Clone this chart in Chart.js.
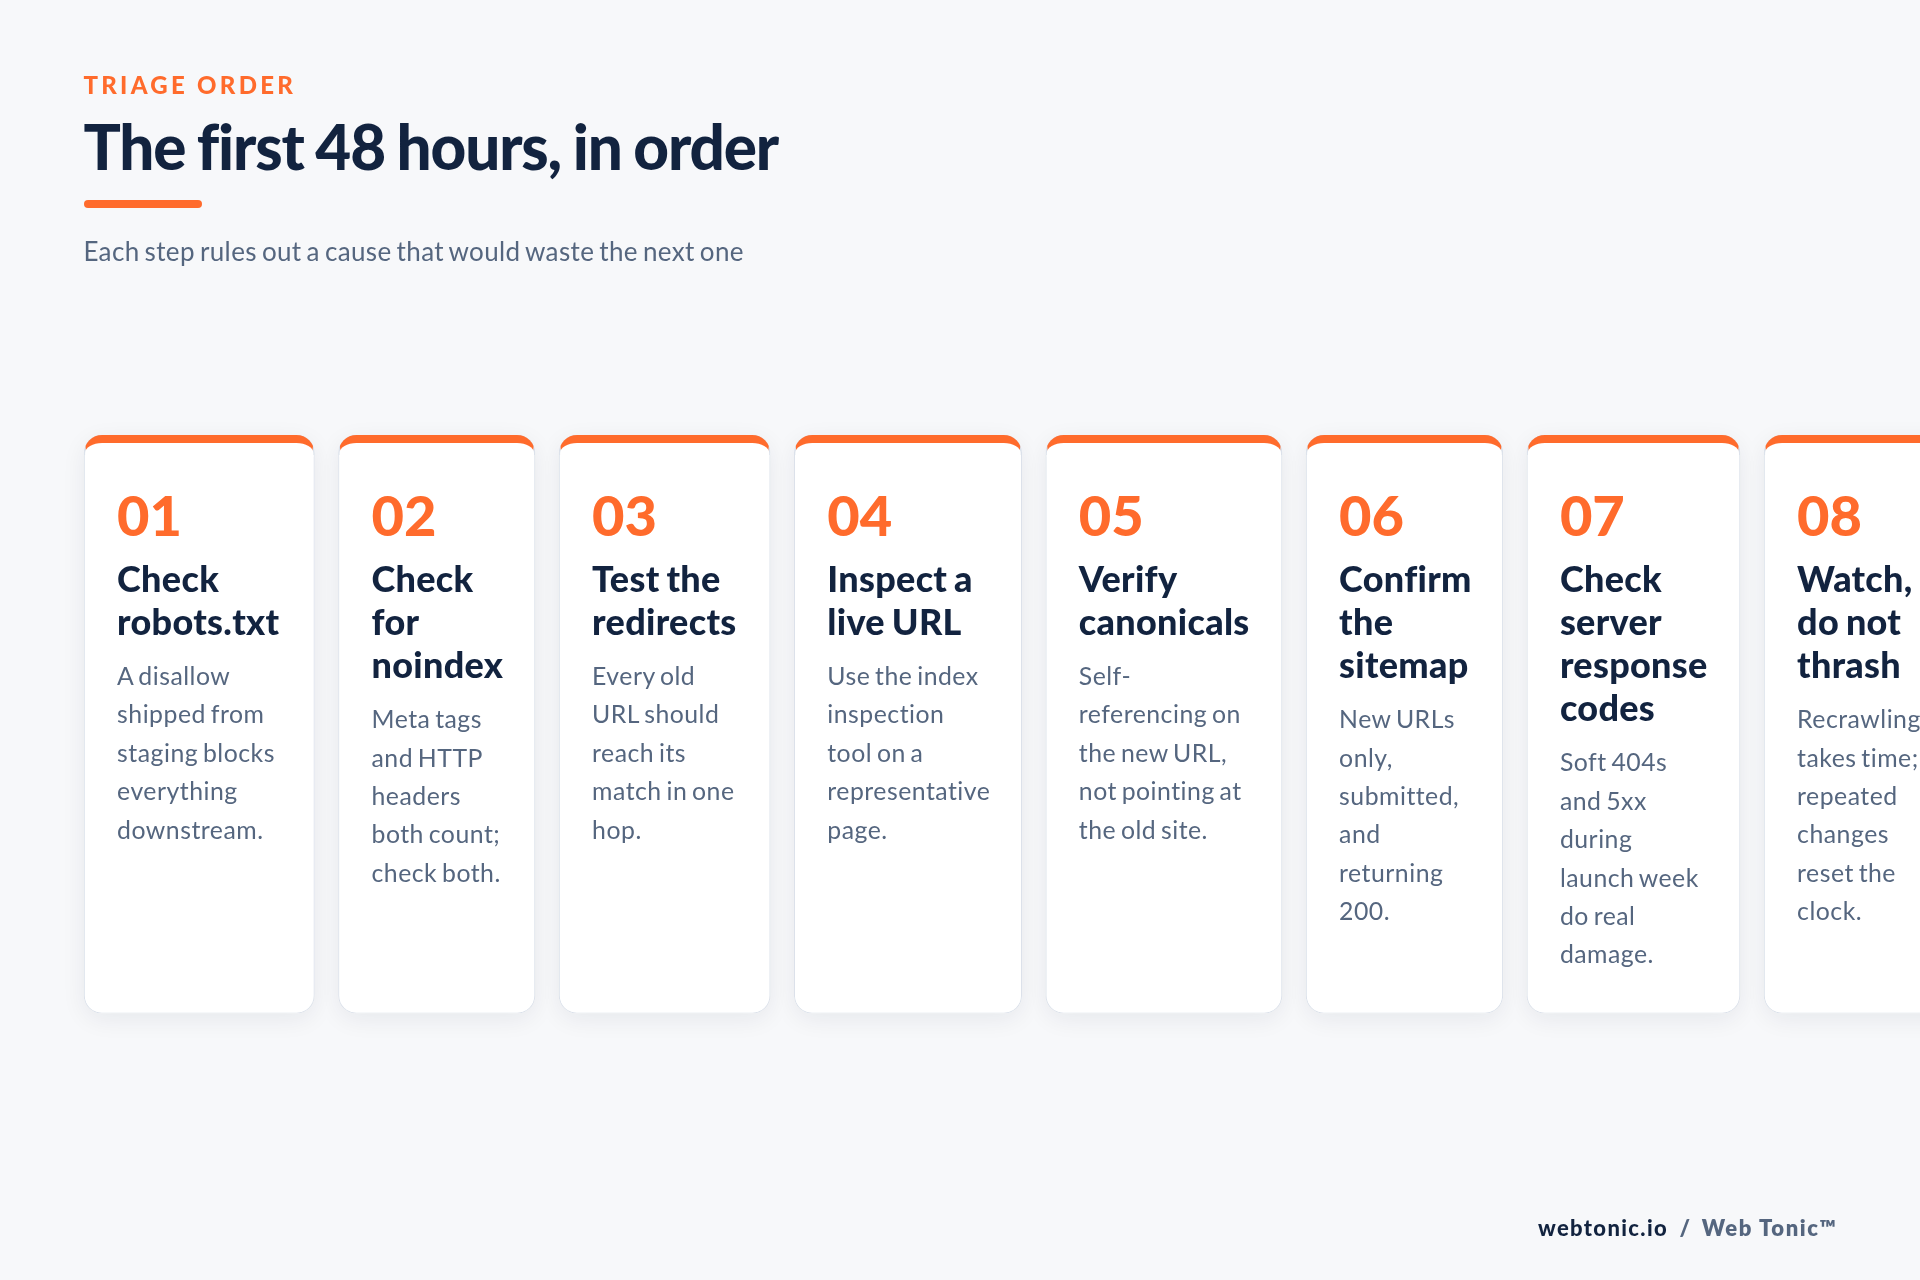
<!DOCTYPE html>
<html><head><meta charset="utf-8">
<script src="https://cdn.jsdelivr.net/npm/chart.js@4"></script>
<style>
html{overflow:hidden}
html,body{margin:0;padding:0;width:1920px;height:1280px;background:#f7f8fa;font-family:Lato,sans-serif}
#c{position:absolute;left:0;top:0}
.abs{position:absolute;white-space:nowrap}
#eyebrow{left:83.4px;top:70px;font-size:24px;line-height:30px;font-weight:900;letter-spacing:3.3px;color:#ff6b2c}
#title{left:83.4px;top:107.5px;font-size:62px;line-height:76px;font-weight:900;letter-spacing:-1.15px;word-spacing:-2px;color:#12233f}
#rule{left:83.6px;top:200px;width:118px;height:8px;border-radius:4px;background:#ff6b2c}
#sub{left:83.4px;top:234px;font-size:26px;line-height:34px;color:#55667f;letter-spacing:.37px;word-spacing:-2px}
#foot{right:82.4px;top:1214px;font-size:22px;line-height:28px;font-weight:800;letter-spacing:1.6px;color:#55667f}
#foot b{color:#12233f;font-weight:900;letter-spacing:1.35px}
#foot i{font-style:normal;margin:0 10px 0 11.5px}
.card{position:absolute;box-sizing:border-box;padding:45.5px 0 0 33px;white-space:nowrap}
.num{font-size:56px;line-height:68px;font-weight:900;color:#ff6b2c}
.ttl{font-size:36px;line-height:43.2px;font-weight:900;color:#12233f;margin-top:8.2px;letter-spacing:.3px;word-spacing:-2px}
.bod{font-size:24.8px;line-height:38.4px;color:#55667f;margin-top:13.9px;letter-spacing:.5px;word-spacing:-2.05px}
</style></head><body>
<canvas id="c" width="1920" height="1280"></canvas>
<div id="eyebrow" class="abs">TRIAGE ORDER</div>
<div id="title" class="abs">The first 48 hours, in order</div>
<div id="rule" class="abs"></div>
<div id="sub" class="abs">Each step rules out a cause that would waste the next one</div>
<div id="foot" class="abs"><b>webtonic.io</b><i>/</i>Web Tonic™</div>
<div id="cards"></div>
<script>
const stepNumbers=["01","02","03","04","05","06","07","08"];
const stepTitles=[
 ["Check","robots.txt"],["Check","for","noindex"],["Test the","redirects"],["Inspect a","live URL"],
 ["Verify","canonicals"],["Confirm","the","sitemap"],["Check","server","response","codes"],["Watch,","do not","thrash"]];
const stepBodies=[
 ["A disallow","shipped from","staging blocks","everything","downstream."],
 ["Meta tags","and HTTP","headers","both count;","check both."],
 ["Every old","URL should","reach its","match in one","hop."],
 ["Use the index","inspection","tool on a","representative","page."],
 ["Self-","referencing on","the new URL,","not pointing at","the old site."],
 ["New URLs","only,","submitted,","and","returning","200."],
 ["Soft 404s","and 5xx","during","launch week","do real","damage."],
 ["Recrawling","takes time;","repeated","changes","reset the","clock."]];
const cardWidths=[230.3,196.5,211.1,227.4,236.2,196.7,213.1,230];

const ORANGE='#ff6b2c',EDGE='#dbe1ea',GAP=24.1,LEFT=84.1,R=18,TOPB=8;
let cur=LEFT;
const spans=cardWidths.map(w=>{const s=[cur,cur+w];cur+=w+GAP;return s;});

function roundPath(ctx,x,y,w,h,r){ctx.beginPath();ctx.roundRect(x,y,w,h,r);}
const cardPlugin={id:'cardPlugin',
 beforeDatasetsDraw(chart){
  const ctx=chart.ctx;
  chart.data.datasets.forEach((d,i)=>{
   const el=chart.getDatasetMeta(i).data[0];
   ctx.save();
   ctx.shadowColor='rgba(18,35,63,.07)';ctx.shadowBlur=24;ctx.shadowOffsetY=6;ctx.fillStyle='#fff';
   roundPath(ctx,el.base,el.y-el.height/2,el.x-el.base,el.height,R);ctx.fill();
   ctx.restore();
  });
 },
 afterDatasetsDraw(chart){
  const ctx=chart.ctx;
  chart.data.datasets.forEach((d,i)=>{
   const el=chart.getDatasetMeta(i).data[0];
   const x=el.base,y=el.y-el.height/2,w=el.x-el.base;
   ctx.save();
   roundPath(ctx,x,y,w,el.height,R);ctx.clip();
   ctx.fillStyle=EDGE;ctx.fillRect(x,y,w,R+2);
   ctx.fillStyle=ORANGE;ctx.beginPath();
   ctx.moveTo(x,y);ctx.lineTo(x+w,y);ctx.lineTo(x+w-2.4,y+TOPB*2.4);ctx.lineTo(x+2.4,y+TOPB*2.4);ctx.closePath();ctx.fill();
   const ix=x+1,iy=y+TOPB,iw=w-2,rx=R-1,ry=R-TOPB;
   ctx.fillStyle='#fff';ctx.beginPath();
   ctx.moveTo(ix,iy+ry+4);ctx.lineTo(ix,iy+ry);
   ctx.ellipse(ix+rx,iy+ry,rx,ry,0,Math.PI,1.5*Math.PI);
   ctx.lineTo(ix+iw-rx,iy);
   ctx.ellipse(ix+iw-rx,iy+ry,rx,ry,0,1.5*Math.PI,2*Math.PI);
   ctx.lineTo(ix+iw,iy+ry+4);ctx.closePath();ctx.fill();
   ctx.restore();
  });
 },
 afterRender(chart){
  const host=document.getElementById('cards');
  if(host.childElementCount)return;
  chart.data.datasets.forEach((d,i)=>{
   const el=chart.getDatasetMeta(i).data[0];
   const div=document.createElement('div');div.className='card';
   div.style.left=el.base+'px';div.style.top=(el.y-el.height/2)+'px';
   const line=t=>{const s=document.createElement('div');s.textContent=t;return s;};
   const n=line(stepNumbers[i]);n.className='num';
   const t=document.createElement('div');t.className='ttl';stepTitles[i].forEach(l=>t.appendChild(line(l)));
   const b=document.createElement('div');b.className='bod';stepBodies[i].forEach(l=>b.appendChild(line(l)));
   div.append(n,t,b);host.appendChild(div);
  });
 }};

new Chart(document.getElementById('c'),{
 type:'bar',
 data:{labels:['Triage steps'],datasets:spans.map((s,i)=>({label:stepNumbers[i],data:[s],backgroundColor:'#fff',borderColor:EDGE,
   borderWidth:{top:TOPB,left:1,right:1,bottom:1},borderSkipped:false,borderRadius:R,barPercentage:1,categoryPercentage:1,grouped:false}))},
 options:{indexAxis:'y',responsive:false,animation:false,devicePixelRatio:1,
  layout:{padding:{top:435,bottom:266.7,left:0,right:0}},
  plugins:{legend:{display:false},tooltip:{enabled:false},title:{display:false}},
  scales:{x:{type:'linear',min:0,max:1920,display:false},y:{type:'category',display:false,grid:{display:false},stacked:true}}},
 plugins:[cardPlugin]
});
</script>
</body></html>
